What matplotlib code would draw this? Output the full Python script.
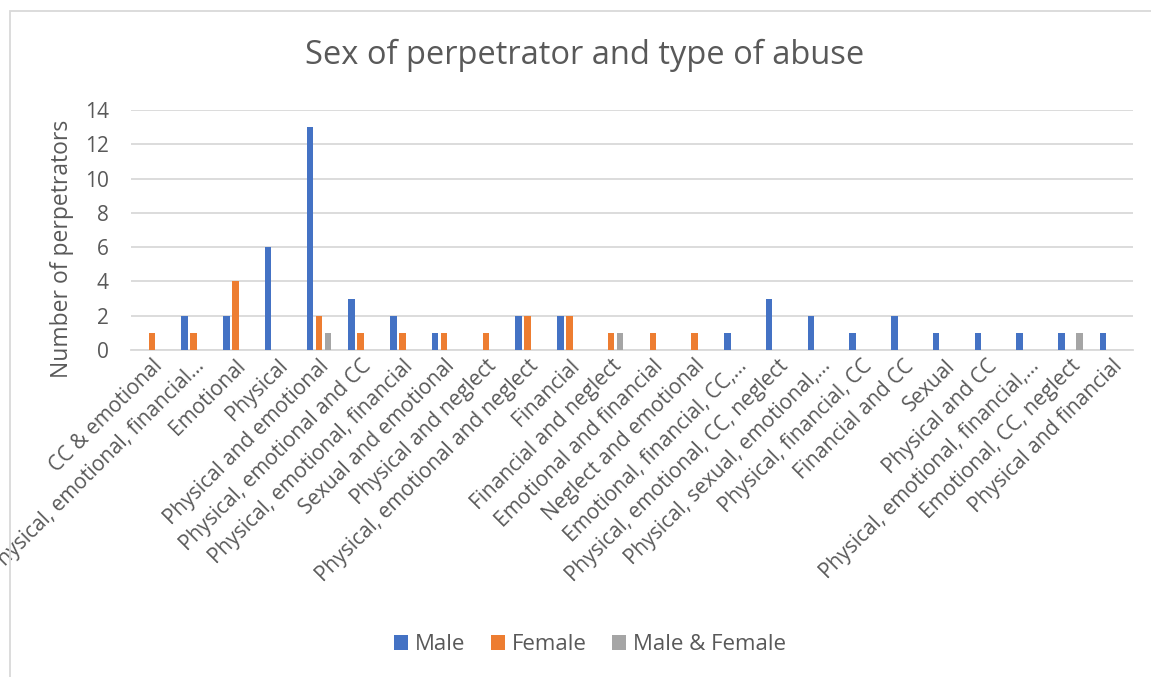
import numpy as np
from matplotlib import pyplot as plt
from matplotlib.patches import Rectangle

plt.rcParams['font.family'] = ['Open Sans', 'DejaVu Sans']

# categories et valeurs
categories = ["CC & emotional", "Physical, emotional, financial…", "Emotional",
              "Physical", "Physical and emotional", "Physical, emotional and CC",
              "Physical, emotional, financial", "Sexual and emotional",
              "Physical and neglect", "Physical, emotional and neglect",
              "Financial", "Financial and neglect", "Emotional and financial",
              "Neglect and emotional", "Emotional, financial, CC,…",
              "Physical, emotional, CC, neglect", "Physical, sexual, emotional,…",
              "Physical, financial, CC", "Financial and CC", "Sexual",
              "Physical and CC", "Physical, emotional, financial,…",
              "Emotional, CC, neglect", "Physical and financial"]
male = [0, 2, 2, 6, 13, 3, 2, 1, 0, 2, 2, 0, 0, 0, 1, 3, 2, 1, 2, 1, 1, 1, 1, 1]
female = [1, 1, 4, 0, 2, 1, 1, 1, 1, 2, 2, 1, 1, 1, 0, 0, 0, 0, 0, 0, 0, 0, 0, 0]
both = [0, 0, 0, 0, 1, 0, 0, 0, 0, 0, 0, 1, 0, 0, 0, 0, 0, 0, 0, 0, 0, 0, 1, 0]

text_col = '#595959'
grid_col = '#D9D9D9'

fig = plt.figure(figsize=(11.51, 6.77), dpi=100)
ax = fig.add_axes([131 / 1151, 1 - 350 / 677, 1002 / 1151, 240 / 677])

x = np.arange(len(categories))
w = 0.16
step = 0.215
ax.bar(x - step, male, w, color='#4472C4', label='Male', zorder=3)
ax.bar(x, female, w, color='#ED7D31', label='Female', zorder=3)
ax.bar(x + step, both, w, color='#A5A5A5', label='Male & Female', zorder=3)

ax.set_xlim(-0.5, len(categories) - 0.5)
ax.set_ylim(0, 14)
ax.set_yticks(range(0, 15, 2))
ax.yaxis.grid(True, color=grid_col, linewidth=1.3, zorder=0)
for s in ['top', 'right', 'left']:
    ax.spines[s].set_visible(False)
ax.spines['bottom'].set_color(grid_col)
ax.spines['bottom'].set_linewidth(1.3)
ax.tick_params(axis='both', length=0, colors=text_col, labelsize=15)
ax.tick_params(axis='y', pad=16)
ax.tick_params(axis='x', pad=4)
ax.set_xticks(x)
ax.set_xticklabels(categories, rotation=45, ha='right', rotation_mode='anchor')

fig.text(585 / 1151, 1 - 55 / 677, 'Sex of perpetrator and type of abuse',
         ha='center', va='center', fontsize=23.5, color=text_col)
fig.text(62 / 1151, 1 - 249 / 677, 'Number of perpetrators', rotation=90,
         ha='center', va='center', fontsize=16.5, color=text_col)

leg = fig.legend(loc='center', bbox_to_anchor=(590 / 1151, 1 - 645 / 677), ncol=3,
                 frameon=False, fontsize=16, handlelength=0.63, handleheight=0.63,
                 columnspacing=1.17, handletextpad=0.3)
for t in leg.get_texts():
    t.set_color(text_col)

# cadre du graphique
fig.patches.append(Rectangle((10 / 1151, -0.1), 1.2, 1.1 - 11 / 677,
                             transform=fig.transFigure, fill=False,
                             edgecolor=grid_col, linewidth=1.3))

fig.savefig('out.png', dpi=100)
